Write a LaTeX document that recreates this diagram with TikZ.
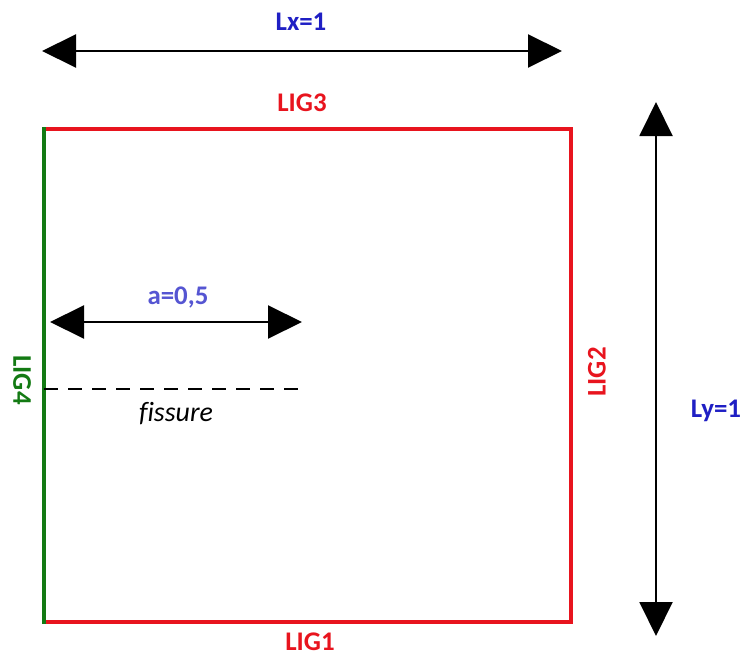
\documentclass[tikz,border=0pt]{standalone}
\usepackage{fontspec}
\setmainfont{Carlito}
\usetikzlibrary{arrows.meta}
\definecolor{ligred}{HTML}{E8141E}
\definecolor{liggreen}{HTML}{137A13}
\definecolor{dimblue}{HTML}{1F1FC4}
\definecolor{ablue}{HTML}{5555D2}
\tikzset{
  lbl/.style={font=\bfseries\fontsize{27}{30}\selectfont, inner sep=0pt},
  dimarrow/.style={line width=2bp, black, {Triangle[length=34bp,width=33bp]}-{Triangle[length=34bp,width=33bp]}},
  edge/.style={line width=4bp, line cap=rect},
}
\begin{document}
\begin{tikzpicture}[x=1bp,y=-1bp]
\useasboundingbox (0,0) rectangle (749,659);
% corners
\coordinate (BL) at (44,622);
\coordinate (BR) at (571,622);
\coordinate (TR) at (571,129);
\coordinate (TL) at (44,129);
% square
\draw[edge, ligred] (BL) -- (BR) -- (TR) -- (TL);
\draw[edge, liggreen] (TL) -- (BL);
% Lx arrow
\coordinate (lxa) at (42,51);
\coordinate (lxb) at (562,51);
\draw[dimarrow] (lxa) -- (lxb);
\node[lbl, text=dimblue] (lx) at (301,22) {Lx=1};
% Ly arrow
\coordinate (lya) at (656,102);
\coordinate (lyb) at (656,636);
\draw[dimarrow] (lya) -- (lyb);
\node[lbl, text=dimblue] (ly) at (716,411) {Ly=1};
% a arrow
\coordinate (aa) at (50,322);
\coordinate (ab) at (302,322);
\draw[dimarrow] (aa) -- (ab);
\node[lbl, text=ablue] (alab) at (178,297) {a=0,5};
% crack
\coordinate (fa) at (44,389);
\coordinate (fb) at (298,389);
\draw[line width=1.3bp, dash pattern=on 14bp off 10bp] (fa) -- (fb);
\node[font=\itshape\fontsize{28}{30}\selectfont, inner sep=0pt] (fis) at (176,414) {\addfontfeatures{Ligatures=NoCommon}fissure};
% labels
\node[lbl, text=ligred] (lig3) at (302,103) {LIG3};
\node[lbl, text=ligred] (lig1) at (310,642) {LIG1};
\node[lbl, text=ligred, rotate=90] (lig2) at (597,372) {LIG2};
\node[lbl, text=liggreen, rotate=-90] (lig4) at (22,380) {LIG4};
\end{tikzpicture}
\end{document}
